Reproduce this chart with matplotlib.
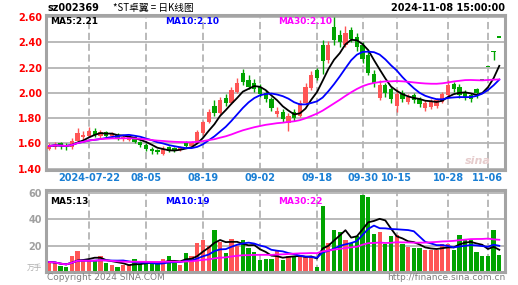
import numpy as np
import pandas as pd
import matplotlib
matplotlib.use('Agg')
import matplotlib.pyplot as plt

plt.rcParams['font.family'] = ['DejaVu Sans', 'Noto Sans CJK SC']

# trading days shown (weekends and CN holidays left out)
holidays = ['2024-09-16', '2024-09-17', '2024-10-01', '2024-10-02',
            '2024-10-03', '2024-10-04', '2024-10-07']
days = pd.bdate_range('2024-07-11', '2024-11-08')
days = days[~days.isin(pd.to_datetime(holidays))]

tick_dates = ['2024-07-22', '2024-08-05', '2024-08-19', '2024-09-02', '2024-09-18',
              '2024-09-30', '2024-10-15', '2024-10-28', '2024-11-06']
tick_labels = ['2024-07-22', '08-05', '08-19', '09-02', '09-18',
               '09-30', '10-15', '10-28', '11-06']

opens = [1.56, 1.57, 1.60, 1.59, 1.57, 1.62, 1.65, 1.66, 1.70, 1.66,
         1.69, 1.66, 1.67, 1.64, 1.63, 1.65, 1.61, 1.59, 1.56, 1.55,
         1.52, 1.57, 1.56, 1.55, 1.60, 1.58, 1.60, 1.68, 1.77, 1.90,
         1.84, 1.96, 1.92, 2.01, 2.16, 2.10, 2.08, 2.05, 2.00, 1.95,
         1.83, 1.85, 1.76, 1.85, 1.82, 1.92, 2.04, 2.18, 2.38, 2.26,
         2.52, 2.46, 2.38, 2.50, 2.44, 2.38, 2.30, 2.15, 1.96, 2.06,
         2.03, 1.90, 2.00, 1.93, 1.98, 1.95, 1.88, 1.89, 1.90, 1.93,
         1.98, 2.07, 2.05, 2.00, 1.98, 2.03, 2.10, 2.21, 2.33, 2.44]
highs = [1.60, 1.61, 1.61, 1.60, 1.64, 1.72, 1.70, 1.73, 1.72, 1.71,
         1.70, 1.69, 1.68, 1.67, 1.66, 1.66, 1.62, 1.60, 1.57, 1.56,
         1.58, 1.58, 1.57, 1.58, 1.62, 1.62, 1.71, 1.78, 1.87, 1.94,
         1.97, 1.99, 2.05, 2.12, 2.19, 2.14, 2.11, 2.07, 2.02, 1.97,
         1.89, 1.87, 1.84, 1.87, 1.94, 2.08, 2.17, 2.20, 2.42, 2.41,
         2.60, 2.50, 2.53, 2.52, 2.47, 2.40, 2.33, 2.18, 2.10, 2.08,
         2.05, 2.03, 2.02, 1.99, 2.00, 1.97, 1.94, 1.95, 1.96, 2.01,
         2.10, 2.09, 2.07, 2.02, 2.00, 2.04, 2.10, 2.21, 2.33, 2.44]
lows = [1.55, 1.56, 1.56, 1.55, 1.56, 1.61, 1.63, 1.65, 1.65, 1.64,
        1.64, 1.64, 1.63, 1.62, 1.62, 1.60, 1.57, 1.54, 1.52, 1.52,
        1.51, 1.53, 1.53, 1.54, 1.57, 1.57, 1.60, 1.67, 1.76, 1.82,
        1.83, 1.90, 1.91, 2.00, 2.06, 2.03, 2.01, 1.97, 1.93, 1.86,
        1.81, 1.77, 1.70, 1.78, 1.81, 1.91, 2.02, 2.10, 2.15, 2.24,
        2.38, 2.36, 2.36, 2.40, 2.33, 2.24, 2.14, 2.05, 1.94, 1.97,
        1.92, 1.85, 1.93, 1.91, 1.92, 1.89, 1.86, 1.87, 1.88, 1.92,
        1.97, 2.01, 1.96, 1.94, 1.93, 1.96, 2.10, 2.21, 2.26, 2.44]
closes = [1.58, 1.59, 1.58, 1.57, 1.62, 1.68, 1.67, 1.70, 1.67, 1.69,
          1.66, 1.67, 1.64, 1.65, 1.65, 1.61, 1.59, 1.56, 1.54, 1.53,
          1.56, 1.54, 1.55, 1.57, 1.58, 1.61, 1.69, 1.77, 1.85, 1.84,
          1.94, 1.92, 2.02, 2.08, 2.09, 2.05, 2.03, 1.99, 1.95, 1.88,
          1.86, 1.79, 1.82, 1.80, 1.92, 2.05, 2.14, 2.12, 2.25, 2.38,
          2.42, 2.40, 2.47, 2.43, 2.36, 2.27, 2.16, 2.08, 2.06, 2.00,
          1.95, 1.99, 1.95, 1.97, 1.94, 1.91, 1.92, 1.93, 1.94, 1.99,
          2.06, 2.03, 1.98, 1.96, 1.95, 2.00, 2.10, 2.21, 2.32, 2.44]
# volume, 10k lots
volumes = [7.5, 7, 4.5, 4, 12, 16, 9, 8, 9, 12,
           7, 5, 4, 5, 5, 10, 6, 7, 7, 6,
           10, 12, 7, 5, 14, 12, 22, 24, 20, 32,
           23, 14, 25, 20, 24, 18, 15, 9, 10, 10,
           16, 9, 12, 12, 12, 12, 11, 4, 50, 22,
           32, 30, 24, 22, 27, 58, 57, 29, 30, 21,
           27, 28, 21, 19, 18, 18, 17, 17, 17, 21,
           21, 17, 28, 24, 24, 15, 12, 12, 32, 13]

RED = '#ff5555'
GREEN = '#00a400'
GRID = '#b4b4b4'
FRAME = '#a4a4a4'

o = np.array(opens); h = np.array(highs); l = np.array(lows); c = np.array(closes)
v = np.array(volumes)
x = np.arange(len(days))
up = c > o
cols = np.where(up, RED, GREEN)

fig = plt.figure(figsize=(5.18, 2.85), dpi=100)
fig.patch.set_facecolor('white')
ax1 = fig.add_axes([46/518, 1-170/285, 459/518, 155/285])
ax2 = fig.add_axes([46/518, 1-272/285, 459/518, 82/285])

tick_x = [days.get_loc(pd.Timestamp(d)) for d in tick_dates]

for ax in (ax1, ax2):
    for t in tick_x:
        ax.axvline(t, color=GRID, lw=1.3, ls=(0, (4, 2)), zorder=0)
    for s in ax.spines.values():
        s.set_color(FRAME)
        s.set_linewidth(2.2)
    ax.tick_params(length=0)
    ax.set_xlim(-0.55, 80.0)

# price panel
pticks = [1.40, 1.60, 1.80, 2.00, 2.20, 2.40, 2.60]
for yv in pticks:
    ax1.axhline(yv, color=GRID, lw=1.3, zorder=0)
ax1.vlines(x, l, h, color=cols, lw=1, zorder=2)
body = np.maximum(np.abs(c - o), 0.012)
ax1.bar(x, body, bottom=np.minimum(o, c) - np.where(c == o, 0.006, 0),
        width=0.75, color=cols, lw=0, zorder=3)

s = pd.Series(c)
ax1.plot(x, s.rolling(5, min_periods=1).mean(), color='black', lw=1.3, zorder=4)
ax1.plot(x, s.rolling(10, min_periods=1).mean(), color='#0000ff', lw=1.3, zorder=4)
ax1.plot(x, s.rolling(30, min_periods=1).mean(), color='#ff00ff', lw=1.3, zorder=4)

ax1.set_ylim(1.39, 2.616)
ax1.set_yticks(pticks)
ax1.set_yticklabels(['%.2f' % t for t in pticks], color='#ff0000',
                    fontsize=7, fontweight='bold')
ax1.set_xticks(tick_x)
ax1.set_xticklabels(tick_labels, color='#1a7fd4', fontsize=7, fontweight='bold')
ax1.tick_params(axis='x', pad=2)
ax1.tick_params(axis='y', pad=3)

ax1.text(0.009, 0.955, 'MA5:2.21', transform=ax1.transAxes, color='black',
         fontsize=6.5, fontweight='bold', va='center')
ax1.text(0.259, 0.955, 'MA10:2.10', transform=ax1.transAxes, color='#0000ff',
         fontsize=6.5, fontweight='bold', va='center')
ax1.text(0.505, 0.955, 'MA30:2.10', transform=ax1.transAxes, color='#ff00ff',
         fontsize=6.5, fontweight='bold', va='center')
ax1.text(0.97, 0.06, 'sina', transform=ax1.transAxes, color='#e6cccc',
         fontsize=8, fontweight='bold', style='italic', ha='right', va='center')

# volume panel
vticks = [20, 40, 60]
for yv in vticks:
    ax2.axhline(yv, color=GRID, lw=1.3, zorder=0)
ax2.bar(x, v, width=0.75, color=cols, lw=0, zorder=2)
vs = pd.Series(v)
ax2.plot(x, vs.rolling(5, min_periods=1).mean(), color='black', lw=1.3, zorder=4)
ax2.plot(x, vs.rolling(10, min_periods=1).mean(), color='#0000ff', lw=1.3, zorder=4)
ax2.plot(x, vs.rolling(30, min_periods=1).mean(), color='#ff00ff', lw=1.3, zorder=4)
ax2.set_ylim(0, 62)
ax2.set_yticks(vticks)
ax2.set_yticklabels([str(t) for t in vticks], color='#a0a0a0',
                    fontsize=7, fontweight='bold')
ax2.set_xticks([])
ax2.tick_params(axis='y', pad=3)

ax2.text(0.009, 0.86, 'MA5:13', transform=ax2.transAxes, color='black',
         fontsize=6.5, fontweight='bold', va='center')
ax2.text(0.259, 0.86, 'MA10:19', transform=ax2.transAxes, color='#0000ff',
         fontsize=6.5, fontweight='bold', va='center')
ax2.text(0.505, 0.86, 'MA30:22', transform=ax2.transAxes, color='#ff00ff',
         fontsize=6.5, fontweight='bold', va='center')

# header / footer
fig.text(47/518, 1-8/285, 'sz002369', fontsize=7, fontweight='bold',
         color='black', va='center')
fig.text(113/518, 1-8/285, '*ST卓翼 = 日K线图', fontsize=7,
         family=['Noto Sans CJK SC', 'DejaVu Sans'], color='black', va='center')
fig.text(505/518, 1-8/285, '2024-11-08 15:00:00', fontsize=7, fontweight='bold',
         color='black', va='center', ha='right')
fig.text(27/518, 1-268/285, '万手', fontsize=5.5, color='#b0b0b0',
         family=['Noto Sans CJK SC', 'DejaVu Sans'], va='center')
fig.text(47/518, 1-278/285, 'Copyright 2024 SINA.COM', fontsize=6.5,
         color='#808080', va='center')
fig.text(505/518, 1-278/285, 'http://finance.sina.com.cn', fontsize=6.5,
         color='#808080', va='center', ha='right')

fig.savefig('out.png', dpi=100, facecolor='white')
